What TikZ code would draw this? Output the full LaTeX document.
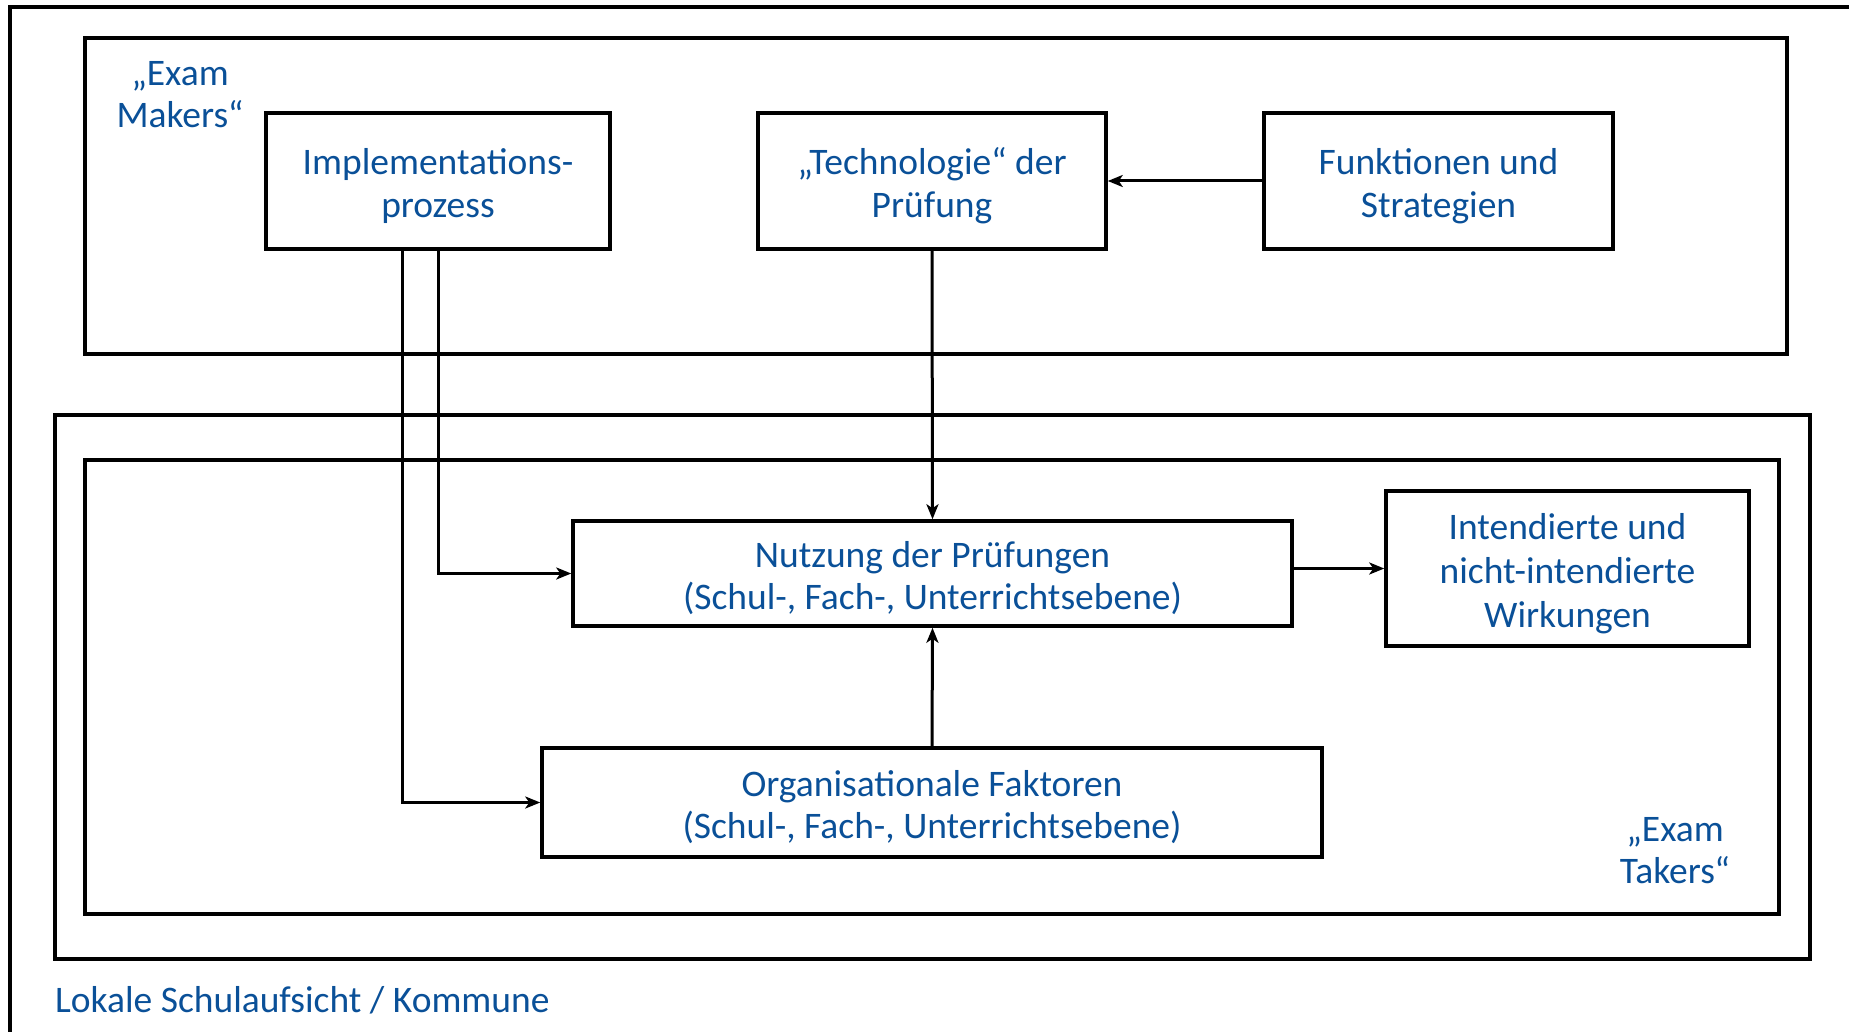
\documentclass[tikz,border=0pt]{standalone}
\usepackage{fontspec}
\setmainfont{Carlito}
\usetikzlibrary{arrows.meta}
\definecolor{textblue}{RGB}{10,80,152}
% invisible strut that lifts the first line of a boxed text
\newcommand{\tallstrut}{\rule{0pt}{40pt}}
\begin{document}
\begin{tikzpicture}[x=1pt,y=-1pt,
  frame/.style={draw=black,line width=3.5pt},
  lbl/.style={text=textblue,font=\fontsize{37.5}{42.5}\selectfont,align=center,inner sep=0pt},
  box/.style={frame,lbl,minimum width=#1,
    execute at end node={\rule[-10pt]{0pt}{0pt}}},
  conn/.style={draw=black,line width=3pt,-{Stealth[length=15pt,width=12pt,inset=4pt]}}]
  \useasboundingbox (0,0) rectangle (1849,1032);
  % open outer frame
  \draw[frame] (10,1032) -- (10,7) -- (1849,7);
  % exam makers frame
  \draw[frame] (85,38) rectangle (1787,354);
  \node[lbl] (makers) at (180,94.5) {„Exam\\Makers“};
  \node[box=344pt,minimum height=136pt] (impl) at (438,181) {\tallstrut Implementations-\\prozess};
  \node[box=348pt,minimum height=136pt] (techno) at (932,181) {\tallstrut „Technologie“ der\\Prüfung};
  \node[box=349pt,minimum height=136pt] (funkt) at (1438.5,181) {\tallstrut Funktionen und\\Strategien};
  % local authority frame and exam takers frame
  \draw[frame] (55,415) rectangle (1810,959);
  \draw[frame] (85,460) rectangle (1779,914);
  \node[box=719pt,minimum height=105pt] (nutz) at (932.5,573.5) {\tallstrut Nutzung der Prüfungen\\(Schul-, Fach-, Unterrichtsebene)};
  \node[box=363pt,minimum height=155pt,font=\fontsize{37.5}{44}\selectfont] (intend) at (1567.5,568.5) {\tallstrut Intendierte und\\nicht-intendierte\\Wirkungen};
  \node[box=780pt,minimum height=109pt] (org) at (932,802.5) {\tallstrut Organisationale Faktoren\\(Schul-, Fach-, Unterrichtsebene)};
  \node[lbl] (takers) at (1675,850.5) {„Exam\\Takers“};
  \node[lbl,anchor=west] (lokal) at (55,1000) {Lokale Schulaufsicht / Kommune};
  % connectors
  \draw[conn] (funkt.west) -- (techno.east);
  \draw[conn] (techno.south) -- (nutz.north);
  \draw[conn] (impl.south) |- (nutz.west);
  \draw[conn] ([xshift=-36pt]impl.south) |- (org.west);
  \draw[conn] (nutz.east |- intend.west) -- (intend.west);
  \draw[conn] (org.north) -- (nutz.south);
\end{tikzpicture}
\end{document}
